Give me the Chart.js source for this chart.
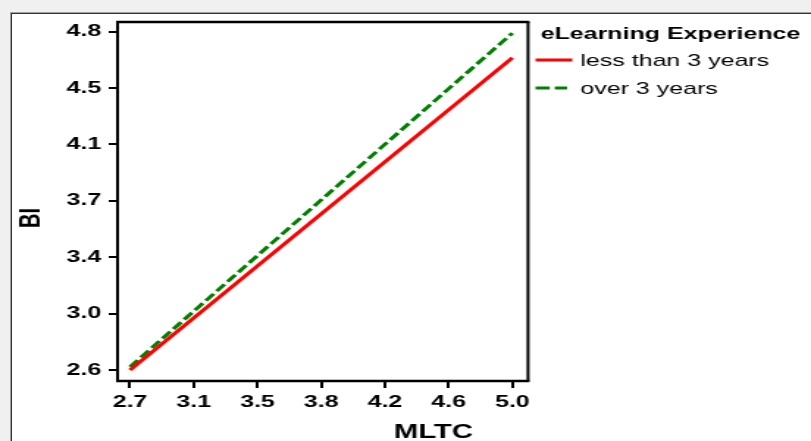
<!DOCTYPE html>
<html>
<head>
<meta charset="utf-8">
<script src="https://cdn.jsdelivr.net/npm/chart.js@4.4.1/dist/chart.umd.min.js"></script>
<style>
    body { margin: 0; background: #f0f0f0; overflow: hidden; width: 811px; height: 441px; }
    #frame { position: absolute; left: 10px; top: 12px; width: 820px; height: 440px; border-left: 1px solid #a0a0a0; border-top: 1px solid #a0a0a0; }
    #frameInner { width: 100%; height: 100%; border-left: 1px solid #333; border-top: 1px solid #333; background: #fff; }
    #chart { position: absolute; left: 0; top: 0; width: 811px !important; height: 441px !important; }
</style>
</head>
<body>
<div id="frame"><div id="frameInner"></div></div>
<!-- the original picture is stretched sideways, so the canvas is drawn narrow and stretched by css -->
<canvas id="chart" width="552" height="441"></canvas>
<script>
// data
const mltc = [2.7, 5.0];
const lessThan3 = [2.6, 4.63];
const over3 = [2.62, 4.79];

const xTickLabels = ['2.7', '3.1', '3.5', '3.8', '4.2', '4.6', '5.0'];
const yTickLabels = ['2.6', '3.0', '3.4', '3.7', '4.1', '4.5', '4.8'];

const legendTitle = 'eLearning Experience';
const xTitle = 'MLTC';
const yTitle = 'BI';

const FONT = "'Liberation Sans', Arial, sans-serif";

// ticks are evenly spaced between first and last label
function tickValues(labels) {
    const lo = parseFloat(labels[0]);
    const hi = parseFloat(labels[labels.length - 1]);
    return labels.map((l, i) => lo + i * (hi - lo) / (labels.length - 1));
}
const xTicks = tickValues(xTickLabels);
const yTicks = tickValues(yTickLabels);

function points(ys) {
    return mltc.map((x, i) => ({ x: x, y: ys[i] }));
}

// box around plot, axis titles and legend
const decorations = {
    id: 'decorations',
    afterDraw(chart) {
        const ctx = chart.ctx;
        const a = chart.chartArea;
        ctx.save();
        ctx.strokeStyle = '#000';
        ctx.lineWidth = 2.5;
        ctx.beginPath();
        ctx.moveTo(a.left - 1, a.top); ctx.lineTo(a.right + 1, a.top);
        ctx.moveTo(a.left - 1, a.bottom); ctx.lineTo(a.right + 1, a.bottom);
        ctx.stroke();
        ctx.lineWidth = 2;
        ctx.beginPath();
        ctx.moveTo(a.left, a.top); ctx.lineTo(a.left, a.bottom);
        ctx.moveTo(a.right, a.top); ctx.lineTo(a.right, a.bottom);
        ctx.stroke();

        ctx.fillStyle = '#000';
        ctx.font = 'bold 20px ' + FONT;
        ctx.textAlign = 'center';
        ctx.textBaseline = 'alphabetic';
        ctx.fillText(xTitle, 295, 438);

        ctx.save();
        ctx.translate(26.5, 218);
        ctx.rotate(-Math.PI / 2);
        ctx.fillText(yTitle, 0, 0);
        ctx.restore();

        // legend
        ctx.textAlign = 'left';
        ctx.font = 'bold 17px ' + FONT;
        ctx.fillText(legendTitle, 368, 39);
        ctx.font = '17px ' + FONT;
        const rows = [60, 88];
        const ends = [389.5, 386];
        chart.data.datasets.forEach((ds, i) => {
            ctx.strokeStyle = ds.borderColor;
            ctx.lineWidth = 3;
            ctx.setLineDash(ds.borderDash ? [9.7, 3.4] : []);
            ctx.beginPath();
            ctx.moveTo(364.5, rows[i]);
            ctx.lineTo(ends[i], rows[i]);
            ctx.stroke();
            ctx.fillText(ds.label, 395, rows[i] + 6);
        });
        ctx.restore();
    }
};

const tickFont = { family: FONT, size: 17, weight: 'bold' };

new Chart(document.getElementById('chart'), {
    type: 'scatter',
    data: {
        datasets: [
            {
                label: 'less than 3 years',
                data: points(lessThan3),
                showLine: true,
                borderColor: 'rgb(255, 0, 0)',
                backgroundColor: 'rgb(255, 0, 0)',
                borderWidth: 3,
                pointRadius: 0
            },
            {
                label: 'over 3 years',
                data: points(over3),
                showLine: true,
                borderColor: 'rgb(0, 128, 0)',
                backgroundColor: 'rgb(0, 128, 0)',
                borderWidth: 3,
                borderDash: [8.6, 3.4],
                pointRadius: 0
            }
        ]
    },
    options: {
        responsive: false,
        devicePixelRatio: 1,
        animation: false,
        layout: { padding: { left: 0, top: 22, right: 192.6, bottom: 0 } },
        plugins: {
            legend: { display: false },
            tooltip: { enabled: false }
        },
        scales: {
            x: {
                type: 'linear',
                min: 2.625,
                max: 5.094,
                afterFit: function (scale) { scale.height = 60; },
                afterBuildTicks: function (scale) {
                    scale.ticks = xTicks.map(v => ({ value: v }));
                },
                ticks: {
                    font: tickFont,
                    color: '#000',
                    padding: 4,
                    maxRotation: 0,
                    autoSkip: false,
                    callback: function (value, index) { return xTickLabels[index]; }
                },
                grid: { drawOnChartArea: false, tickLength: 7, lineWidth: 2, color: '#000' },
                border: { display: false }
            },
            y: {
                type: 'linear',
                min: 2.528,
                max: 4.862,
                afterFit: function (scale) { scale.width = 80; },
                afterBuildTicks: function (scale) {
                    scale.ticks = yTicks.map(v => ({ value: v }));
                },
                ticks: {
                    font: tickFont,
                    color: '#000',
                    padding: 5,
                    autoSkip: false,
                    callback: function (value, index) { return yTickLabels[index]; }
                },
                grid: { drawOnChartArea: false, tickLength: 6, lineWidth: 2, color: '#000' },
                border: { display: false }
            }
        }
    },
    plugins: [decorations]
});
</script>
</body>
</html>
